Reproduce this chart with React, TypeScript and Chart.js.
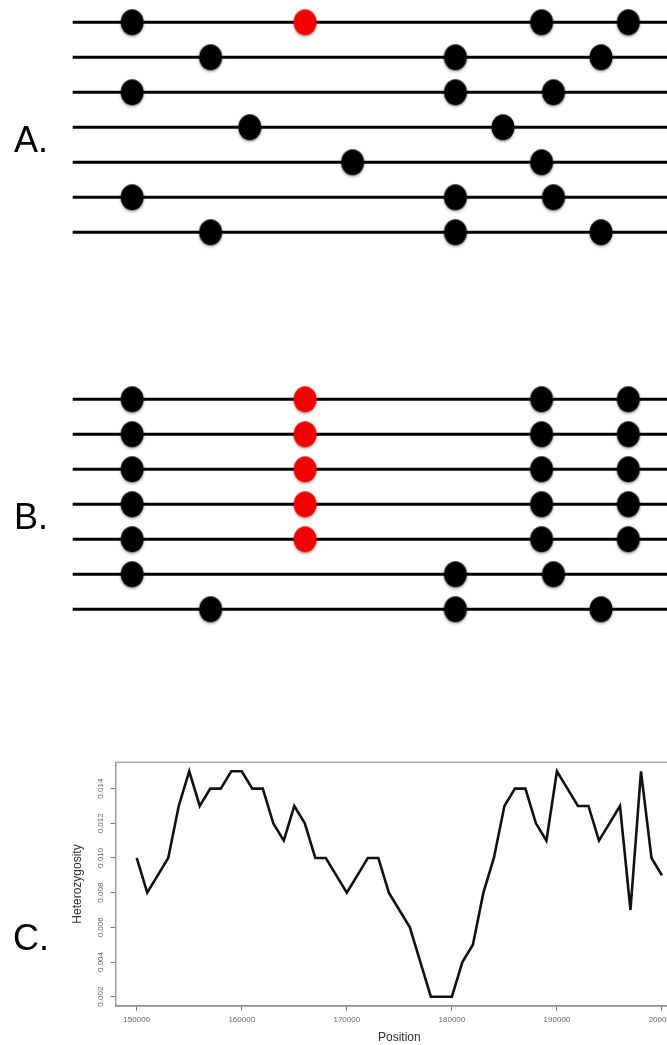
import React, { useEffect, useRef } from "react";
import { Chart, registerables } from "chart.js";

Chart.register(...registerables);

// ---------- Panels A & B: haplotypes with segregating sites ----------
const SITE_POSITIONS = [10, 23.2, 29.8, 39.1, 47.1, 64.4, 72.4, 78.9, 80.9, 88.9, 93.5];
const DERIVED_SITE = 3; // red (selected) variant
const HAPLOTYPE_SPAN = [0, 100];
const PANEL_A_HAPLOTYPES = [
  [0, 3, 7, 10],
  [1, 5, 9],
  [0, 5, 8],
  [2, 6],
  [4, 7],
  [0, 5, 8],
  [1, 5, 9],
];
const PANEL_B_HAPLOTYPES = [
  [0, 3, 7, 10],
  [0, 3, 7, 10],
  [0, 3, 7, 10],
  [0, 3, 7, 10],
  [0, 3, 7, 10],
  [0, 5, 8],
  [1, 5, 9],
];

// ---------- Panel C: heterozygosity along the region ----------
const POSITIONS = [
  150000, 151000, 152000, 153000, 154000, 155000, 156000, 157000, 158000, 159000,
  160000, 161000, 162000, 163000, 164000, 165000, 166000, 167000, 168000, 169000,
  170000, 171000, 172000, 173000, 174000, 175000, 176000, 177000, 178000, 179000,
  180000, 181000, 182000, 183000, 184000, 185000, 186000, 187000, 188000, 189000,
  190000, 191000, 192000, 193000, 194000, 195000, 196000, 197000, 198000, 199000,
  200000,
];
const HETEROZYGOSITY = [
  0.010, 0.008, 0.009, 0.010, 0.013, 0.015, 0.013, 0.014, 0.014, 0.015,
  0.015, 0.014, 0.014, 0.012, 0.011, 0.013, 0.012, 0.010, 0.010, 0.009,
  0.008, 0.009, 0.010, 0.010, 0.008, 0.007, 0.006, 0.004, 0.002, 0.002,
  0.002, 0.004, 0.005, 0.008, 0.010, 0.013, 0.014, 0.014, 0.012, 0.011,
  0.015, 0.014, 0.013, 0.013, 0.011, 0.012, 0.013, 0.007, 0.015, 0.010,
  0.009,
];
const X_TICKS = [150000, 160000, 170000, 180000, 190000, 200000];
const Y_TICKS = [0.002, 0.004, 0.006, 0.008, 0.010, 0.012, 0.014];
const X_RANGE = [148000, 202000];
const Y_RANGE = [0.00148, 0.01552];

const FONT = '"Liberation Sans", Arial, Helvetica, sans-serif';

function makeDot(color: string): HTMLCanvasElement {
  const c = document.createElement("canvas");
  c.width = 30;
  c.height = 34;
  const ctx = c.getContext("2d")!;
  ctx.shadowColor = "rgba(0,0,0,0.35)";
  ctx.shadowBlur = 3;
  ctx.shadowOffsetY = 1.5;
  ctx.fillStyle = color;
  ctx.beginPath();
  ctx.ellipse(15, 17, 11.5, 13, 0, 0, Math.PI * 2);
  ctx.fill();
  return c;
}

function HaplotypePanel({ haplotypes, top }: { haplotypes: number[][]; top: number }) {
  const ref = useRef<HTMLCanvasElement | null>(null);
  useEffect(() => {
    if (!ref.current) return;
    const blackDot = makeDot("#000");
    const redDot = makeDot("#f20000");
    const blackPts: { x: number; y: number }[] = [];
    const redPts: { x: number; y: number }[] = [];
    haplotypes.forEach((sites, i) =>
      sites.forEach((s) =>
        (s === DERIVED_SITE ? redPts : blackPts).push({ x: SITE_POSITIONS[s], y: i + 1 })
      )
    );
    const lineSets = haplotypes.map((_, i) => ({
      type: "line" as const,
      data: [
        { x: HAPLOTYPE_SPAN[0], y: i + 1 },
        { x: HAPLOTYPE_SPAN[1], y: i + 1 },
      ],
      borderColor: "#000",
      borderWidth: 3,
      pointRadius: 0,
      showLine: true,
      clip: false as const,
    }));
    const chart = new Chart(ref.current, {
      type: "scatter",
      data: {
        datasets: [
          { data: redPts, pointStyle: redDot, pointRadius: 12, clip: false as const },
          { data: blackPts, pointStyle: blackDot, pointRadius: 12, clip: false as const },
          ...lineSets,
        ] as any,
      },
      options: {
        animation: false,
        responsive: false,
        events: [],
        layout: { autoPadding: false, padding: { left: 72.7, right: 0, top: 22.3, bottom: 22.7 } },
        plugins: { legend: { display: false }, tooltip: { enabled: false } },
        scales: {
          x: { type: "linear", display: false, min: HAPLOTYPE_SPAN[0], max: HAPLOTYPE_SPAN[1] },
          y: { type: "linear", display: false, min: 1, max: haplotypes.length, reverse: true },
        },
      },
    } as any);
    return () => chart.destroy();
  }, [haplotypes]);
  return (
    <canvas
      ref={ref}
      width={667}
      height={255}
      style={{ position: "absolute", left: 0, top, width: 667, height: 255 }}
    />
  );
}

const boxPlugin = {
  id: "rbox",
  afterDraw(chart: any) {
    const { ctx, chartArea } = chart;
    ctx.save();
    ctx.strokeStyle = "#9a9a9a";
    ctx.lineWidth = 1.2;
    ctx.strokeRect(chartArea.left, chartArea.top, chartArea.right - chartArea.left, chartArea.bottom - chartArea.top);
    ctx.restore();
  },
};

function HeterozygosityChart({ top }: { top: number }) {
  const ref = useRef<HTMLCanvasElement | null>(null);
  useEffect(() => {
    if (!ref.current) return;
    const chart = new Chart(ref.current, {
      type: "line",
      data: {
        datasets: [
          {
            data: POSITIONS.map((p, i) => ({ x: p, y: HETEROZYGOSITY[i] })),
            borderColor: "#111",
            borderWidth: 2.6,
            pointRadius: 0,
            tension: 0,
            fill: false,
          },
        ],
      },
      options: {
        animation: false,
        responsive: false,
        events: [],
        layout: { autoPadding: false, padding: { top: 22.3, right: 17, bottom: 0, left: 0 } },
        plugins: { legend: { display: false }, tooltip: { enabled: false } },
        scales: {
          x: {
            type: "linear",
            min: X_RANGE[0],
            max: X_RANGE[1],
            afterBuildTicks: (s: any) => {
              s.ticks = X_TICKS.map((v) => ({ value: v }));
            },
            afterFit: (s: any) => {
              s.height = 39.3;
            },
            grid: { drawOnChartArea: false, drawTicks: true, tickLength: 5, color: "#777", lineWidth: 1 },
            border: { display: true, color: "#666", width: 1.5 },
            ticks: {
              font: { size: 8, family: FONT },
              color: "#666",
              padding: 4,
              minRotation: 0,
              maxRotation: 0,
              autoSkip: false,
              callback: (v: any) => String(v),
            },
            title: {
              display: true,
              text: "Position",
              font: { size: 12, family: FONT },
              color: "#333",
              padding: { top: 0, bottom: 0 },
            },
          },
          y: {
            type: "linear",
            min: Y_RANGE[0],
            max: Y_RANGE[1],
            afterBuildTicks: (s: any) => {
              s.ticks = Y_TICKS.map((v) => ({ value: v }));
            },
            afterFit: (s: any) => {
              s.width = 115.7;
            },
            grid: { drawOnChartArea: false, drawTicks: true, tickLength: 5, color: "#777", lineWidth: 1 },
            border: { display: true, color: "#888", width: 1.2 },
            ticks: {
              font: { size: 8, family: FONT },
              color: "#666",
              padding: 0,
              minRotation: 90,
              maxRotation: 90,
              crossAlign: "center",
              autoSkip: false,
              callback: (v: any) => Number(v).toFixed(3),
            },
            title: {
              display: true,
              text: "Heterozygosity",
              font: { size: 12, family: FONT },
              color: "#333",
              padding: { top: 70, bottom: 0 },
            },
          },
        },
      },
      plugins: [boxPlugin],
    } as any);
    return () => chart.destroy();
  }, []);
  return (
    <canvas
      ref={ref}
      width={700}
      height={305}
      style={{ position: "absolute", left: 0, top, width: 700, height: 305 }}
    />
  );
}

const labelStyle = (top: number, left: number): React.CSSProperties => ({
  position: "absolute",
  left,
  top,
  fontFamily: FONT,
  fontSize: 36,
  lineHeight: "36px",
  color: "#000",
});

export default function App() {
  return (
    <div
      style={{
        position: "absolute",
        left: 0,
        top: 0,
        width: 667,
        height: 1045,
        overflow: "hidden",
        background: "#fff",
      }}
    >
      <HaplotypePanel haplotypes={PANEL_A_HAPLOTYPES} top={0} />
      <HaplotypePanel haplotypes={PANEL_B_HAPLOTYPES} top={376.7} />
      <HeterozygosityChart top={740} />
      <div style={labelStyle(122.3, 14)}>A.</div>
      <div style={labelStyle(499.3, 14)}>B.</div>
      <div style={labelStyle(920, 13)}>C.</div>
    </div>
  );
}
